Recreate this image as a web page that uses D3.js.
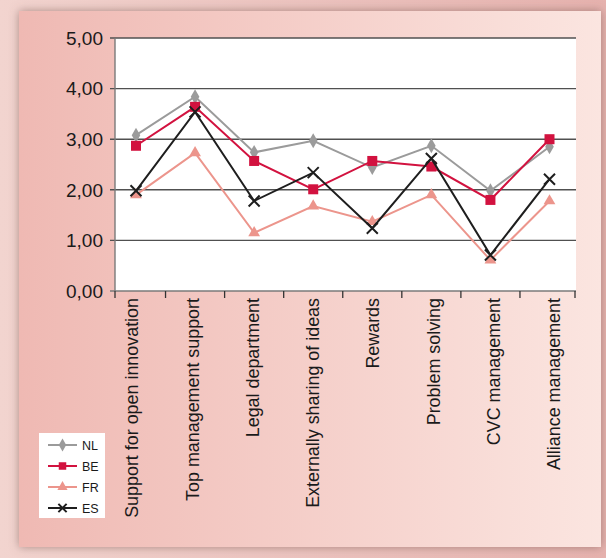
<!DOCTYPE html>
<html>
<head>
<meta charset="utf-8">
<script src="https://cdn.jsdelivr.net/npm/d3@7"></script>
<style>
  body { margin: 0; }
  svg { display: block; }
</style>
</head>
<body>
<script>
const categories = [
  "Support for open innovation",
  "Top management support",
  "Legal department",
  "Externally sharing of ideas",
  "Rewards",
  "Problem solving",
  "CVC management",
  "Alliance management"
];
const seriesNames = ["NL", "BE", "FR", "ES"];
const nlValues = [3.08, 3.84, 2.74, 2.97, 2.44, 2.87, 1.98, 2.85];
const beValues = [2.87, 3.64, 2.57, 2.01, 2.57, 2.46, 1.80, 3.00];
const frValues = [1.90, 2.73, 1.15, 1.68, 1.37, 1.90, 0.61, 1.78];
const esValues = [1.98, 3.54, 1.78, 2.34, 1.24, 2.62, 0.71, 2.21];
const yTicks = [0, 1, 2, 3, 4, 5];

const width = 606;
const height = 558;

const series = [
  { name: "NL", values: nlValues, color: "#9b9b9b", marker: "diamond" },
  { name: "BE", values: beValues, color: "#d2123f", marker: "square" },
  { name: "FR", values: frValues, color: "#ec958c", marker: "triangle" },
  { name: "ES", values: esValues, color: "#1e1e1e", marker: "cross" }
];

const svg = d3
  .select("body")
  .append("svg")
  .attr("width", width)
  .attr("height", height);

const defs = svg.append("defs");

const bgGrad = defs.append("linearGradient").attr("id", "bg");
bgGrad.append("stop").attr("offset", "0%").attr("stop-color", "#efb9b3");
bgGrad.append("stop").attr("offset", "100%").attr("stop-color", "#fbe5e0");

const outerGrad = defs.append("linearGradient").attr("id", "outer");
outerGrad.append("stop").attr("offset", "0%").attr("stop-color", "#f2d4cf");
outerGrad.append("stop").attr("offset", "100%").attr("stop-color", "#e6b2ae");

const shadow = defs.append("filter").attr("id", "shadow")
  .attr("x", "-5%").attr("y", "-5%").attr("width", "110%").attr("height", "110%");
shadow.append("feDropShadow")
  .attr("dx", 0).attr("dy", 0).attr("stdDeviation", 5)
  .attr("flood-color", "#7a5a56").attr("flood-opacity", 0.6);

svg.append("rect")
  .attr("width", width).attr("height", height)
  .attr("fill", "url(#outer)");

svg.append("rect")
  .attr("x", 19).attr("y", 11)
  .attr("width", 582).attr("height", 536)
  .attr("fill", "url(#bg)")
  .attr("filter", "url(#shadow)");

// plot area
const plotLeft = 115, plotRight = 576, plotTop = 38, plotBottom = 291;

const x = d3.scalePoint().domain(categories).range([136, 549.5]);
const labelX = d3.scalePoint().domain(categories).range([132, 554]);
const y = d3.scaleLinear().domain([0, 5]).range([plotBottom, plotTop]);

svg.append("rect")
  .attr("x", plotLeft).attr("y", plotTop)
  .attr("width", plotRight - plotLeft).attr("height", plotBottom - plotTop)
  .attr("fill", "#fff");

// horizontal grid lines
svg.append("g")
  .selectAll("line")
  .data(yTicks)
  .enter()
  .append("line")
  .attr("x1", plotLeft - 5)
  .attr("x2", plotRight)
  .attr("y1", (d) => y(d))
  .attr("y2", (d) => y(d))
  .attr("stroke", (d) => (d === 0 ? "#7a7a7a" : "#505050"))
  .attr("stroke-width", 1.4);

// left axis line
svg.append("line")
  .attr("x1", plotLeft).attr("x2", plotLeft)
  .attr("y1", plotTop).attr("y2", plotBottom)
  .attr("stroke", "#7a7a7a")
  .attr("stroke-width", 1.4);

// y tick labels
svg.append("g")
  .selectAll("text")
  .data(yTicks)
  .enter()
  .append("text")
  .attr("x", 103)
  .attr("y", (d) => y(d))
  .attr("dy", "0.36em")
  .attr("text-anchor", "end")
  .attr("font-family", "Liberation Sans, Arial, sans-serif")
  .attr("font-size", 19)
  .attr("fill", "#1a1a1a")
  .text((d) => d3.format(".2f")(d).replace(".", ","));

// x ticks between categories
const step = x.step();
const xTickPos = [plotLeft]
  .concat(categories.slice(1).map((c) => x(c) - step / 2))
  .concat([plotRight - 1]);

svg.append("g")
  .selectAll("line")
  .data(xTickPos)
  .enter()
  .append("line")
  .attr("x1", (d) => d)
  .attr("x2", (d) => d)
  .attr("y1", plotBottom)
  .attr("y2", plotBottom + 7)
  .attr("stroke", "#333")
  .attr("stroke-width", 1.3);

// category labels
svg.append("g")
  .selectAll("text")
  .data(categories)
  .enter()
  .append("text")
  .attr("transform", (d) => `translate(${labelX(d)},298) rotate(-90)`)
  .attr("dy", "0.35em")
  .attr("text-anchor", "end")
  .attr("font-family", "Liberation Sans, Arial, sans-serif")
  .attr("font-size", 17.9)
  .attr("fill", "#1a1a1a")
  .text((d) => d);

// markers
function drawMarker(g, type, color, size) {
  if (type === "diamond") {
    g.append("path")
      .attr("d", d3.symbol(d3.symbolDiamond, size * 8)())
      .attr("fill", color);
  } else if (type === "square") {
    g.append("rect")
      .attr("x", -size / 2).attr("y", -size / 2)
      .attr("width", size).attr("height", size)
      .attr("fill", color);
  } else if (type === "triangle") {
    g.append("path")
      .attr("d", d3.symbol(d3.symbolTriangle, size * 6)())
      .attr("fill", color);
  } else {
    const h = size / 2;
    g.append("path")
      .attr("d", `M${-h},${-h}L${h},${h}M${-h},${h}L${h},${-h}`)
      .attr("stroke", color)
      .attr("stroke-width", 2)
      .attr("fill", "none");
  }
}

const markerSize = { diamond: 8, square: 10, triangle: 10, cross: 11 };

const line = d3
  .line()
  .x((d, i) => x(categories[i]))
  .y((d) => y(d));

series.forEach((s) => {
  const g = svg.append("g");
  g.append("path")
    .attr("d", line(s.values))
    .attr("fill", "none")
    .attr("stroke", s.color)
    .attr("stroke-width", 2);
  g.selectAll("g")
    .data(s.values)
    .enter()
    .append("g")
    .attr("transform", (d, i) => `translate(${x(categories[i])},${y(d)})`)
    .each(function () {
      drawMarker(d3.select(this), s.marker, s.color, markerSize[s.marker]);
    });
});

// legend
const legend = svg.append("g");
legend.append("rect")
  .attr("x", 39).attr("y", 433)
  .attr("width", 66).attr("height", 85)
  .attr("fill", "#fff");

const legendY = d3.scalePoint().domain(seriesNames).range([445, 508]);

series.forEach((s) => {
  const row = legend.append("g")
    .attr("transform", `translate(0,${legendY(s.name)})`);
  row.append("line")
    .attr("x1", 48).attr("x2", 77)
    .attr("stroke", s.color)
    .attr("stroke-width", 2);
  const m = row.append("g").attr("transform", "translate(62.5,0)");
  drawMarker(m, s.marker, s.color, markerSize[s.marker] * 0.75);
  row.append("text")
    .attr("x", 82)
    .attr("dy", "0.36em")
    .attr("font-family", "Liberation Sans Narrow, Arial Narrow, sans-serif")
    .attr("font-size", 12.5)
    .attr("fill", "#1a1a1a")
    .text(s.name);
});
</script>
</body>
</html>
